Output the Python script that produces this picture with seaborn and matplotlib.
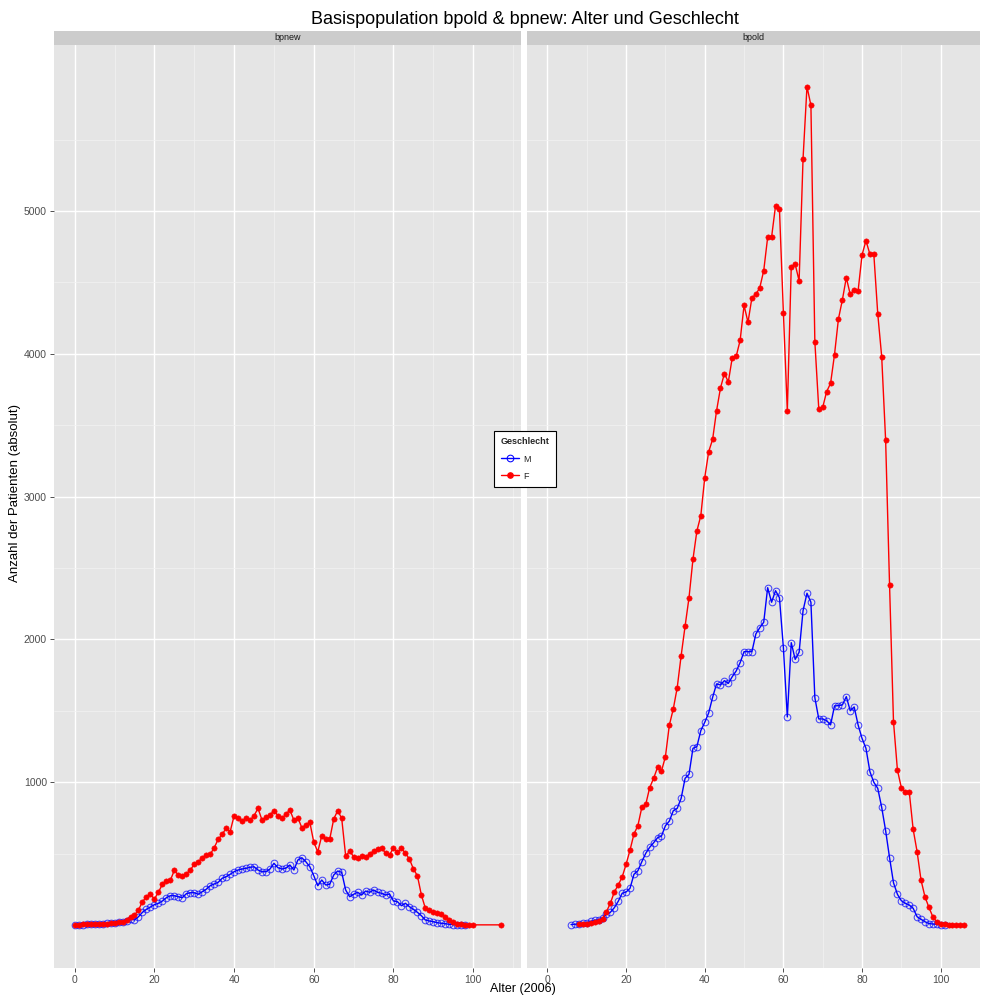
import numpy as np
import pandas as pd
import matplotlib
matplotlib.use("Agg")
import matplotlib.pyplot as plt
from matplotlib.lines import Line2D
import seaborn as sns

sns.set_theme(style="white")
plt.rcParams["font.family"] = ["Liberation Sans", "DejaVu Sans"]

# ---- patient counts per age (2006), by population and sex ----
bpnew_m_alter = list(range(0, 99))
bpnew_m_anzahl = [
    2, 2, 3, 4, 5, 6, 7, 9, 11, 13,
    15, 18, 21, 25, 42, 35, 58, 89, 110, 126,
    142, 152, 168, 191, 205, 205, 198, 191, 219, 226,
    226, 215, 233, 250, 275, 287, 299, 327, 338, 355,
    373, 385, 392, 397, 404, 408, 385, 373, 373, 392,
    432, 401, 392, 398, 420, 385, 455, 471, 443, 408,
    345, 275, 315, 280, 285, 350, 378, 369, 245, 198,
    215, 229, 210, 238, 229, 245, 229, 222, 210, 217,
    168, 163, 135, 152, 128, 110, 89, 65, 35, 28,
    23, 16, 12, 9, 5, 3, 2, 2, 1,
]

bpnew_f_alter = list(range(0, 101)) + [107]
bpnew_f_anzahl = [
    2, 3, 4, 4, 5, 6, 7, 8, 10, 12,
    14, 18, 23, 35, 58, 70, 105, 163, 198, 215,
    182, 229, 285, 308, 313, 383, 350, 345, 359, 385,
    425, 443, 471, 490, 495, 541, 600, 635, 677, 653,
    765, 751, 728, 747, 735, 765, 817, 735, 754, 770,
    801, 765, 747, 777, 805, 735, 751, 681, 700, 719,
    579, 513, 625, 602, 602, 742, 801, 747, 483, 518,
    478, 471, 483, 478, 495, 518, 532, 541, 502, 490,
    541, 509, 537, 502, 462, 392, 345, 210, 117, 105,
    89, 82, 75, 58, 35, 19, 9, 5, 3, 2, 1,
    1,
]

bpold_m_alter = list(range(6, 102))
bpold_m_anzahl = [
    3, 5, 8, 12,
    16, 26, 33, 37, 47, 75, 89, 121, 166, 222,
    231, 257, 355, 380, 443, 502, 544, 576, 611, 623,
    695, 728, 800, 817, 887, 1027, 1055, 1237, 1249, 1361,
    1419, 1485, 1594, 1688, 1681, 1711, 1692, 1739, 1779, 1837,
    1914, 1914, 1914, 2038, 2082, 2120, 2362, 2260, 2341, 2292,
    1942, 1457, 1977, 1860, 1910, 2201, 2323, 2260, 1592, 1443,
    1443, 1431, 1401, 1534, 1536, 1541, 1599, 1500, 1527, 1401,
    1307, 1237, 1074, 999, 957, 824, 661, 471, 296, 215,
    170, 152, 140, 117, 58, 40, 23, 10, 7, 5,
    3, 2,
]

bpold_f_alter = list(range(8, 107))
bpold_f_anzahl = [
    5, 5,
    10, 12, 20, 30, 45, 93, 152, 231, 280, 336,
    425, 525, 637, 696, 824, 845, 962, 1027, 1104, 1078,
    1179, 1400, 1513, 1662, 1886, 2092, 2292, 2560, 2759, 2866,
    3132, 3314, 3400, 3600, 3760, 3861, 3803, 3973, 3982, 4094,
    4339, 4220, 4393, 4416, 4463, 4582, 4815, 4817, 5035, 5012,
    4288, 3600, 4610, 4627, 4510, 5366, 5871, 5740, 4085, 3613,
    3625, 3735, 3793, 3994, 4244, 4377, 4533, 4416, 4449, 4440,
    4692, 4792, 4697, 4697, 4279, 3980, 3395, 2380, 1424, 1085,
    961, 934, 934, 670, 514, 315, 198, 124, 58, 23,
    7, 5, 3, 2, 2, 1, 1,
]

populationen = ["bpnew", "bpold"]
geschlechter = ["M", "F"]
farben = {"M": "#0000FF", "F": "#FF0000"}
y_breaks = [1000, 2000, 3000, 4000, 5000]
x_breaks = [0, 20, 40, 60, 80, 100]

frames = []
for pop, sex, alter, anzahl in [
    ("bpnew", "M", bpnew_m_alter, bpnew_m_anzahl),
    ("bpnew", "F", bpnew_f_alter, bpnew_f_anzahl),
    ("bpold", "M", bpold_m_alter, bpold_m_anzahl),
    ("bpold", "F", bpold_f_alter, bpold_f_anzahl),
]:
    frames.append(pd.DataFrame({"Alter": alter, "Anzahl": anzahl,
                                "Geschlecht": sex, "Population": pop}))
df = pd.concat(frames, ignore_index=True)

# ---- figure layout in pixels ----
W, H = 982, 997
fig = plt.figure(figsize=(W / 100, H / 100), dpi=100)


def box(x0, x1, ytop, ybot):
    return [x0 / W, 1 - ybot / H, (x1 - x0) / W, (ybot - ytop) / H]


panel_px = {"bpnew": (54, 521, (-5.2, 112.0)),
            "bpold": (527, 980, (-5.2, 108.1))}
y_lim = (-299, 6162)

axes = {}
for i, pop in enumerate(populationen):
    x0, x1, xlim = panel_px[pop]
    ax = fig.add_axes(box(x0, x1, 45, 967.7))
    ax.set_facecolor("#E5E5E5")
    for s in ax.spines.values():
        s.set_visible(False)

    for sex in geschlechter:
        sub = df[(df["Population"] == pop) & (df["Geschlecht"] == sex)]
        c = farben[sex]
        if sex == "M":
            sns.lineplot(data=sub, x="Alter", y="Anzahl", ax=ax, color=c,
                         lw=1.0, marker="o", markersize=4.8,
                         markerfacecolor="none", markeredgecolor=(0, 0, 1, 0.7),
                         markeredgewidth=0.75, estimator=None, legend=False,
                         zorder=3)
        else:
            sns.lineplot(data=sub, x="Alter", y="Anzahl", ax=ax, color=c,
                         lw=1.0, marker="o", markersize=3.8,
                         markerfacecolor=c, markeredgecolor=c,
                         markeredgewidth=0.4, estimator=None, legend=False,
                         zorder=4)

    ax.set_xlim(*xlim)
    ax.set_ylim(*y_lim)
    ax.set_xticks(x_breaks)
    ax.set_xticks([10, 30, 50, 70, 90, 110], minor=True)
    ax.set_yticks(y_breaks)
    ax.set_yticks([500, 1500, 2500, 3500, 4500, 5500], minor=True)
    ax.grid(which="major", color="white", lw=1.0)
    ax.grid(which="minor", color="#F2F2F2", lw=0.5)
    ax.set_axisbelow(True)
    ax.set_xlabel("")
    ax.set_ylabel("")
    ax.tick_params(which="major", length=3, width=0.6, color="#333333",
                   labelsize=7.5, labelcolor="#4D4D4D", pad=2,
                   bottom=True, left=(i == 0))
    ax.tick_params(which="minor", length=0)
    ax.set_xticklabels([str(v) for v in x_breaks])
    if i == 0:
        ax.set_yticklabels([str(v) for v in y_breaks])
    else:
        ax.set_yticklabels([])

    # facet strip
    sax = fig.add_axes(box(x0, x1, 31, 45))
    sax.set_facecolor("#CCCCCC")
    sax.set_xticks([])
    sax.set_yticks([])
    for s in sax.spines.values():
        s.set_visible(False)
    sax.text(0.5, 0.5, pop, ha="center", va="center", fontsize=6.5,
             color="#1A1A1A", transform=sax.transAxes)
    axes[pop] = ax

fig.text(525 / W, 1 - 20 / H, "Basispopulation bpold & bpnew: Alter und Geschlecht",
         ha="center", va="center", fontsize=13, color="black")
fig.text(523 / W, 1 - 989 / H, "Alter (2006)", ha="center", va="center",
         fontsize=9, color="black")
fig.text(15 / W, 1 - 493 / H, "Anzahl der Patienten (absolut)", ha="center",
         va="center", rotation=90, fontsize=9.5, color="black")

handles = [
    Line2D([], [], color=farben["M"], lw=1.0, marker="o", markersize=4.8,
           markerfacecolor="none", markeredgecolor=farben["M"], markeredgewidth=0.75),
    Line2D([], [], color=farben["F"], lw=1.0, marker="o", markersize=3.8,
           markerfacecolor=farben["F"], markeredgecolor=farben["F"]),
]
leg = fig.legend(handles, geschlechter, title="Geschlecht", loc="center",
                 bbox_to_anchor=(525 / W, 1 - 459 / H), fontsize=6.5,
                 title_fontsize=6.5, frameon=True, fancybox=False,
                 edgecolor="black", framealpha=1, handlelength=2.0,
                 borderpad=0.7, labelspacing=0.9, handletextpad=0.5,
                 alignment="left")
leg.get_title().set_fontweight("bold")
leg.get_frame().set_linewidth(0.8)

fig.savefig("out.png", dpi=100)
